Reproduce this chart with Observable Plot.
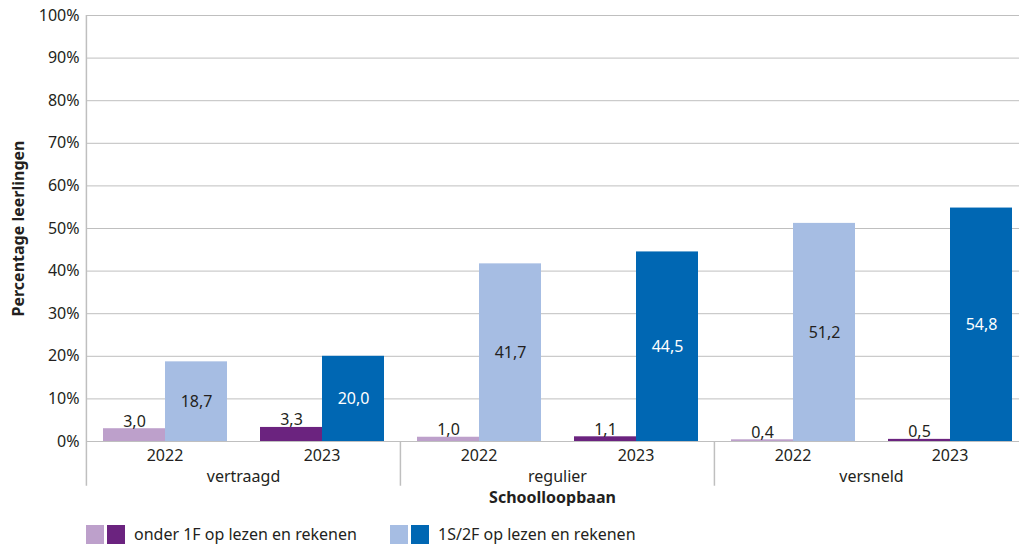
<!DOCTYPE html>
<html>
<head>
<meta charset="utf-8">
<script src="https://cdn.jsdelivr.net/npm/d3@7"></script>
<script src="https://cdn.jsdelivr.net/npm/@observablehq/plot@0.6"></script>
<style>
  body { margin: 0; background: #fff; font-family: "Noto Sans", sans-serif; color: #231f20; }
  #legend { position: relative; height: 39px; font-size: 16px; }
  .item { display: flex; align-items: center; position: absolute; top: 17px; }
  .sw { width: 18px; height: 19px; display: inline-block; margin-right: 3px; }
</style>
</head>
<body>
<div id="chart"></div>
<div id="legend"></div>
<script>
const groups = ["vertraagd", "regulier", "versneld"];
const years = ["2022", "2023"];
const series = ["onder 1F op lezen en rekenen", "1S/2F op lezen en rekenen"];
// values per group, per year (2022, 2023)
const onder1F = [3.0, 3.3, 1.0, 1.1, 0.4, 0.5];
const boven1S2F = [18.7, 20.0, 41.7, 44.5, 51.2, 54.8];
const yTicks = [0, 10, 20, 30, 40, 50, 60, 70, 80, 90, 100];

const colors = {
  [series[0]]: { "2022": "#bda0cb", "2023": "#6b237f" },
  [series[1]]: { "2022": "#a6bde3", "2023": "#0067b3" }
};

const rows = [];
groups.forEach((g, gi) => years.forEach((y, yi) => {
  rows.push({ group: g, year: y, key: g + "|" + y, series: series[0], value: onder1F[gi * 2 + yi] });
  rows.push({ group: g, year: y, key: g + "|" + y, series: series[1], value: boven1S2F[gi * 2 + yi] });
}));
const keys = groups.flatMap(g => years.map(y => g + "|" + y));

const W = 1019, H = 506, mL = 85, mR = -9, mT = 15, mB = 65;
const facetW = (W - mL - mR) / keys.length;
const fmt = v => v.toFixed(1).replace(".", ",");
const ink = "#231f20", gridC = "#bfbfbf";

const chart = Plot.plot({
  width: W, height: H,
  marginLeft: mL, marginRight: mR, marginTop: mT, marginBottom: mB,
  style: { fontFamily: "Noto Sans, sans-serif", fontSize: "16px", color: ink, overflow: "hidden", background: "#fff" },
  fx: { domain: keys, padding: 0, label: null, axis: null },
  x: { domain: series, paddingInner: 0, paddingOuter: 0.25, axis: null },
  y: { domain: [0, 100], label: null },
  color: { type: "identity" },
  marks: [
    Plot.gridY(yTicks, { stroke: gridC, strokeOpacity: 1 }),
    Plot.axisY({ ticks: yTicks, tickSize: 0, tickPadding: 7, tickFormat: d => d + "%", label: null }),
    Plot.axisFx({ anchor: "bottom", tickSize: 0, tickPadding: 8, tickFormat: d => d.split("|")[1], label: null }),
    Plot.ruleX(groups, {
      x: null,
      fx: g => g + "|2022",
      y1: g => g === groups[0] ? 100 : 0,
      y2: -10.5,
      dx: -facetW / 2,
      stroke: gridC, strokeWidth: 1.5
    }),
    Plot.barY(rows, { fx: "key", x: "series", y: "value", fill: d => colors[d.series][d.year] }),
    Plot.text(rows.filter(d => d.series === series[0]), {
      fx: "key", x: "series", y: "value", text: d => fmt(d.value),
      lineAnchor: "bottom", dy: -2, fill: ink
    }),
    Plot.text(rows.filter(d => d.series === series[1]), {
      fx: "key", x: "series", y: d => d.value / 2, text: d => fmt(d.value),
      fill: d => d.year === "2023" ? "#ffffff" : ink
    }),
    Plot.text(groups, {
      fx: g => g + "|2022", frameAnchor: "bottom-right", textAnchor: "middle",
      text: d => d, dy: 40, fill: ink
    }),
    Plot.text(["Schoolloopbaan"], {
      fx: () => "regulier|2022", frameAnchor: "bottom-right", textAnchor: "middle",
      text: d => d, dy: 61, dx: -5, fill: ink, fontWeight: "bold"
    }),
    Plot.text(["Percentage leerlingen"], {
      fx: () => "vertraagd|2022", frameAnchor: "left", textAnchor: "middle", rotate: -90,
      text: d => d, dx: -68, fill: ink, fontWeight: "bold"
    })
  ]
});
document.getElementById("chart").appendChild(chart);

// legend
const legend = document.getElementById("legend");
const legendX = [86, 390];
series.forEach((s, i) => {
  const item = document.createElement("div");
  item.className = "item";
  item.style.left = legendX[i] + "px";
  years.forEach(y => {
    const sw = document.createElement("span");
    sw.className = "sw";
    sw.style.background = colors[s][y];
    item.appendChild(sw);
  });
  const t = document.createElement("span");
  t.textContent = s;
  t.style.marginLeft = "6px";
  item.appendChild(t);
  legend.appendChild(item);
});
</script>
</body>
</html>
